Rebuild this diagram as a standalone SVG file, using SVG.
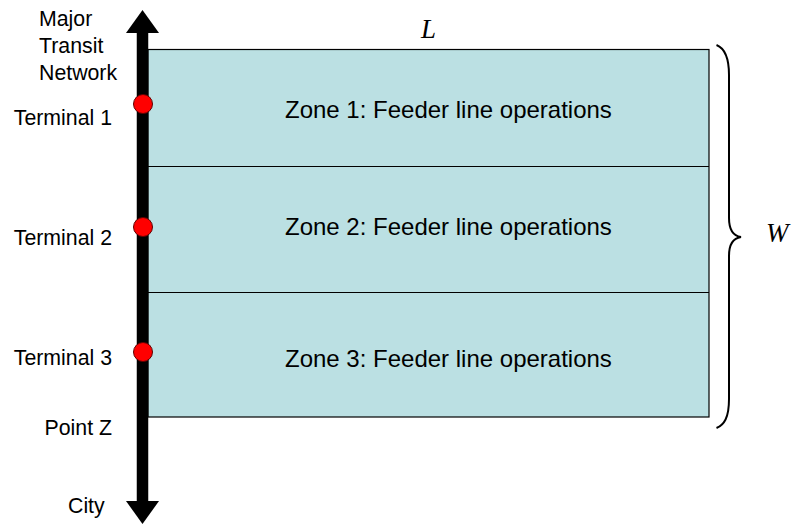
<svg xmlns="http://www.w3.org/2000/svg" width="794" height="524" viewBox="0 0 794 524">
<style>
.lbl{font-family:"Liberation Sans",Arial,sans-serif;font-size:21.3px;fill:#000}
.zone{font-family:"Liberation Sans",Arial,sans-serif;font-size:24px;fill:#000}
.var{font-family:"Liberation Serif","Times New Roman",serif;font-style:italic;font-size:27px;fill:#000}
.term{fill:#FF0000;stroke:#600000;stroke-width:1}
.div{stroke:#000;stroke-width:1.2}
</style>
<defs>
<marker id="head" markerUnits="userSpaceOnUse" viewBox="0 0 23 33" refX="1" refY="16.5" markerWidth="23" markerHeight="33" orient="auto-start-reverse">
<path d="M0,0 L23,16.5 L0,33 z" fill="#000"/>
</marker>
</defs>
<rect width="794" height="524" fill="#fff"/>
<g id="zones">
<rect x="148" y="49.5" width="561" height="367.5" fill="#BBE0E3" stroke="#000" stroke-width="1.2"/>
<line class="div" x1="148" y1="166.5" x2="709" y2="166.5"/>
<line class="div" x1="148" y1="292.5" x2="709" y2="292.5"/>
</g>
<g id="zone1"><text class="zone" x="285" y="118">Zone 1: Feeder line operations</text></g>
<g id="zone2"><text class="zone" x="285" y="235">Zone 2: Feeder line operations</text></g>
<g id="zone3"><text class="zone" x="285" y="366.5">Zone 3: Feeder line operations</text></g>
<g id="connectors">
<line x1="142.5" y1="32" x2="142.5" y2="502" stroke="#000" stroke-width="11.5" marker-start="url(#head)" marker-end="url(#head)"/>
</g>
<g id="network-label">
<text class="lbl" x="39" y="26">Major</text>
<text class="lbl" x="39" y="53">Transit</text>
<text class="lbl" x="39" y="80">Network</text>
</g>
<g id="terminal1">
<circle class="term" cx="143" cy="104" r="9.5"/>
<text class="lbl" x="112" y="125" text-anchor="end">Terminal 1</text>
</g>
<g id="terminal2">
<circle class="term" cx="143" cy="227" r="9.5"/>
<text class="lbl" x="112" y="245" text-anchor="end">Terminal 2</text>
</g>
<g id="terminal3">
<circle class="term" cx="143" cy="352" r="9.5"/>
<text class="lbl" x="112" y="365" text-anchor="end">Terminal 3</text>
</g>
<g id="pointz"><text class="lbl" x="112" y="435" text-anchor="end">Point Z</text></g>
<g id="city"><text class="lbl" x="68" y="513">City</text></g>
<g id="length"><text class="var" x="421" y="38">L</text></g>
<g id="width">
<path d="M716.5,45 C724,48 729,56 729,75 L729,218 C729,230 734,236 741,237 C734,238 729,244 729,256 L729,399 C729,418 724,425 716.5,428" fill="none" stroke="#000" stroke-width="2"/>
<text class="var" x="766" y="242">W</text>
</g>
</svg>
